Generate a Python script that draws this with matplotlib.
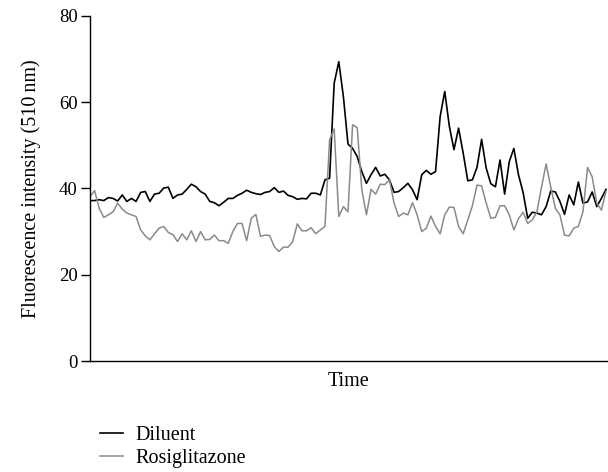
import matplotlib
matplotlib.use("Agg")
import matplotlib.pyplot as plt
from matplotlib.lines import Line2D

plt.rcParams['font.family'] = ['Liberation Serif', 'DejaVu Serif']

diluent = [
    37.2, 37.2, 37.4, 37.2, 37.9, 37.7, 37.1, 38.5, 37.0, 37.7, 37.0, 39.1, 39.3, 37.0, 38.7, 38.9, 40.1, 40.3, 37.7,
    38.5, 38.7, 39.8, 41.0, 40.4, 39.3, 38.7, 37.0, 36.7, 36.0, 36.8, 37.7, 37.7, 38.4, 38.9, 39.6, 39.1, 38.8,
    38.6, 39.1, 39.3, 40.2, 39.1, 39.4, 38.4, 38.1, 37.5, 37.7, 37.6, 38.9, 38.9, 38.5, 42.0, 42.4, 64.4, 69.4, 61.3,
    50.3, 49.3, 47.4, 43.9, 41.2, 43.2, 44.9, 42.9, 43.3, 42.0, 39.1, 39.3, 40.2, 41.2, 39.7, 37.4, 43.2, 44.2, 43.3,
    43.9, 56.7, 62.5, 54.4, 49.0, 54.0, 48.2, 41.8, 42.0, 44.9, 51.4, 44.7, 41.1, 40.4, 46.6, 38.7, 46.2, 49.3,
    43.2, 39.1, 33.1, 34.5, 34.3, 33.9, 35.8, 39.4, 39.2, 37.0, 34.0, 38.5, 36.2, 41.5, 36.6, 36.9, 39.2, 35.8, 37.7, 39.8,
]

rosiglitazone = [
    38.1, 39.5, 35.4, 33.3, 33.9, 34.6, 36.6, 35.2, 34.3, 33.9, 33.5, 30.4, 29.0, 28.1, 29.5, 30.8, 31.2, 29.8, 29.3,
    27.7, 29.5, 28.1, 30.2, 27.7, 30.0, 28.1, 28.2, 29.2, 27.9, 27.9, 27.3, 30.0, 31.9, 31.9, 27.9, 33.1, 34.0,
    28.9, 29.2, 29.1, 26.5, 25.4, 26.4, 26.4, 27.7, 31.8, 30.2, 30.2, 30.9, 29.5, 30.4, 31.2, 51.3, 53.8, 33.5, 35.8,
    34.6, 54.8, 54.1, 39.7, 33.9, 39.8, 38.7, 41.0, 40.9, 42.0, 36.6, 33.5, 34.3, 33.9, 36.7, 33.9, 30.0, 30.8, 33.6,
    31.2, 29.5, 33.9, 35.7, 35.6, 31.2, 29.5, 32.7, 36.0, 40.8, 40.6, 36.6, 33.1, 33.3, 36.0, 36.0, 33.9, 30.4,
    33.0, 34.5, 31.9, 32.7, 34.6, 40.3, 45.7, 40.4, 35.4, 33.9, 29.2, 29.0, 30.8, 31.2, 34.6, 44.9, 42.7, 36.6, 35.0, 39.3,
]

y_ticks = [0, 20, 40, 60, 80]
series_names = ["Diluent", "Rosiglitazone"]

FS = 14.5
fig = plt.figure(figsize=(6.08, 4.72), dpi=100)
ax = fig.add_axes([90/608, 1 - 361/472, 518/608, 345/472])

x = list(range(len(diluent)))
ax.plot(x, diluent, color='black', lw=1.2)
ax.plot(x, rosiglitazone, color='#8a8a8a', lw=1.1)

n = len(diluent) - 1
ax.set_xlim(0, n + 2 / (516 / n))
ax.set_ylim(0, 80)
ax.set_yticks(y_ticks)
ax.set_xticks([])
for s in ['top', 'right']:
    ax.spines[s].set_visible(False)
for s in ['left', 'bottom']:
    ax.spines[s].set_linewidth(1.0)
ax.tick_params(axis='y', direction='out', length=6.5, width=1.0, labelsize=13.5, pad=2.5)
ax.set_ylabel("Fluorescence intensity (510\u2009nm)", fontsize=FS, labelpad=13)
ax.set_xlabel("Time", fontsize=FS, labelpad=8)

handles = [Line2D([], [], color='black', lw=1.2), Line2D([], [], color='#8a8a8a', lw=1.1)]
fig.legend(handles, series_names, loc='upper left', bbox_to_anchor=(100/608, 1 - 426/472),
           frameon=False, fontsize=FS, handlelength=1.15, handletextpad=0.6, labelspacing=0.2,
           borderaxespad=0, borderpad=0)

fig.savefig("out.png", dpi=100)
